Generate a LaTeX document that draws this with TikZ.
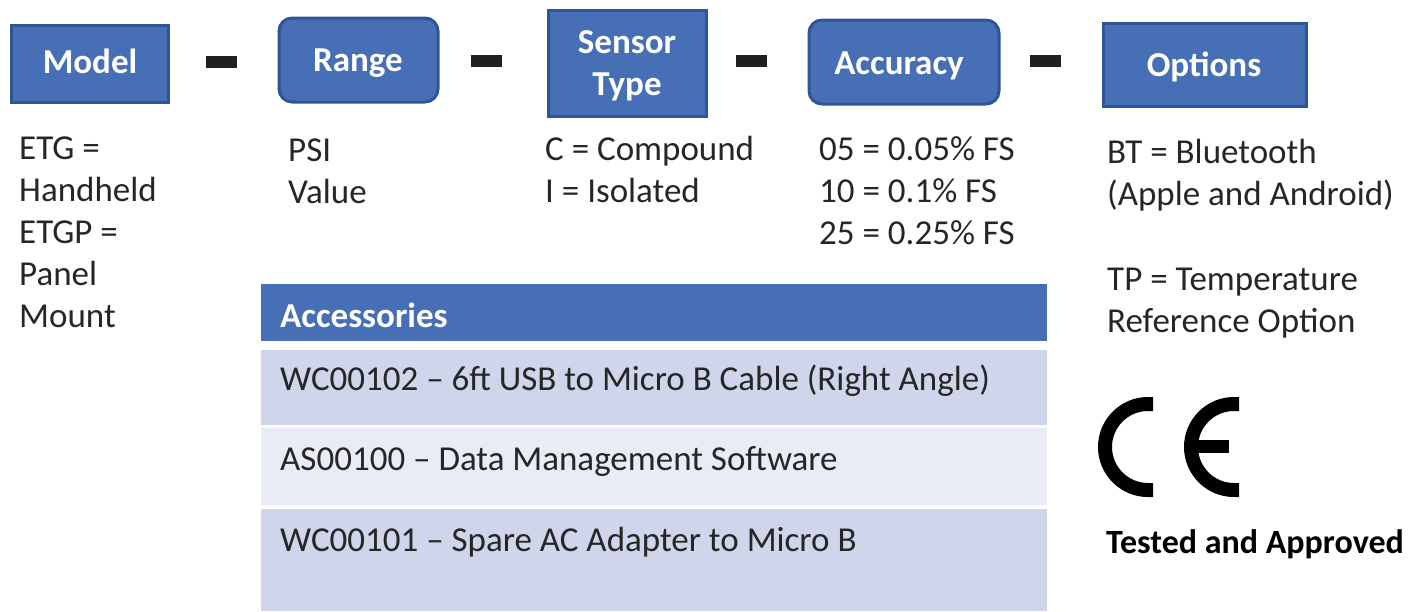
\documentclass[tikz,border=0pt]{standalone}
\usepackage{fontspec}
\setmainfont{Carlito}
\definecolor{boxblue}{HTML}{466FB6}
\definecolor{boxedge}{HTML}{2F5597}
\definecolor{rowdark}{HTML}{CFD5EA}
\definecolor{rowlight}{HTML}{E9EBF5}
\definecolor{dashblack}{HTML}{231F20}
\definecolor{inkgrey}{HTML}{262626}
\tikzset{
  sqbox/.style={draw=boxedge, line width=3pt, fill=boxblue, inner sep=0pt},
  rdbox/.style={sqbox, rounded corners=13pt},
  boxlabel/.style={text=white, inner sep=0pt, align=center, font=\fontsize{35}{42}\selectfont\bfseries},
  dashbar/.style={fill=dashblack, inner sep=0pt, minimum width=31pt, minimum height=12pt},
  info/.style={anchor=north west, inner sep=0pt, align=left, text=inkgrey,
    font=\fontsize{35}{42}\selectfont},
  tablerow/.style={anchor=north west, inner sep=0pt, minimum width=786pt},
}
\begin{document}
\begin{tikzpicture}[x=1pt, y=-1pt]
        \useasboundingbox (0, 0) rectangle (1408, 611);
        % boxes
        \node[sqbox, minimum width=157pt, minimum height=77pt] (model) at (89.5, 63.5) {};
        \node[rdbox, minimum width=159pt, minimum height=84pt] (range) at (358.5, 60) {};
        \node[sqbox, minimum width=158pt, minimum height=106pt] (sensor) at (627, 63) {};
        \node[rdbox, minimum width=190pt, minimum height=84pt] (accuracy) at (904, 62) {};
        \node[sqbox, minimum width=203pt, minimum height=83pt] (options) at (1204.5, 64.5) {};
        \node[boxlabel] (modellabel) at (90, 61) {Model};
        \node[boxlabel] (rangelabel) at (358, 63) {Range};
        \node[boxlabel] (sensorlabel) at (627, 66) {Sensor\\Type};
        \node[boxlabel] (accuracylabel) at (899, 66) {Accuracy};
        \node[boxlabel] (optionslabel) at (1204, 67) {Options};
        % dashes
        \node[dashbar] (dasha) at (221, 61.5) {};
        \node[dashbar] (dashb) at (486.5, 61) {};
        \node[dashbar] (dashc) at (751.5, 61) {};
        \node[dashbar] (dashd) at (1045.5, 61) {};
        % values
        \node[info] (modelinfo) at (19, 137) {ETG =\\Handheld\\ETGP =\\Panel\\Mount};
        \node[info] (rangeinfo) at (288, 139) {PSI\\Value};
        \node[info] (sensorinfo) at (545, 136) {C = Compound\\I = Isolated};
        \node[info] (accuracyinfo) at (819, 136) {05 = 0.05\% FS\\10 = 0.1\% FS\\25 = 0.25\% FS};
        \node[info] (optionsinfo) at (1107, 139) {BT = Bluetooth\\(Apple and Android)\\[43pt]TP = Temperature\\Reference Option};
        % table
        \node[tablerow, fill=boxblue, minimum height=57pt] (rowhead) at (261, 284) {};
        \node[tablerow, fill=rowdark, minimum height=75pt] (rowa) at (261, 350) {};
        \node[tablerow, fill=rowlight, minimum height=77pt] (rowb) at (261, 428) {};
        \node[tablerow, fill=rowdark, minimum height=102pt] (rowc) at (261, 509) {};
        \node[info, text=white, font=\fontsize{35}{42}\selectfont\bfseries] (headtext) at (280, 303) {Accessories};
        \node[info] (rowatext) at (280, 365) {WC00102 – 6ft USB to Micro B Cable (Right Angle)};
        \node[info] (rowbtext) at (280, 446) {AS00100 – Data Management Software};
        \node[info] (rowctext) at (280, 527) {WC00101 – Spare AC Adapter to Micro B};
        % CE mark
        \draw[line width=14pt] (1153, 404) -- (1148, 404) arc (270:90:43) -- (1153, 490);
        \draw[line width=14pt] (1239, 404) -- (1234, 404) arc (270:90:43) -- (1239, 490);
        \draw[line width=13pt] (1190, 446.5) -- (1229, 446.5);
        \node[info, text=black, font=\fontsize{34}{42}\selectfont\bfseries] (approved) at (1106, 529) {Tested and Approved};
      \end{tikzpicture}
\end{document}
